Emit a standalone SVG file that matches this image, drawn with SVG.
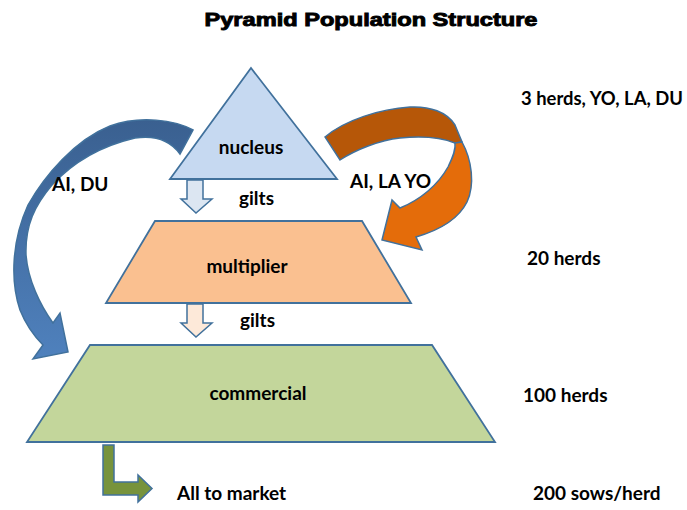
<svg xmlns="http://www.w3.org/2000/svg" width="687" height="510" viewBox="0 0 687 510">
  <defs>
    <linearGradient id="blueRibbon" x1="0" y1="0" x2="0" y2="1">
      <stop offset="0" stop-color="#3a6090"/>
      <stop offset="1" stop-color="#4f81bd"/>
    </linearGradient>
  </defs>
  <style>
    .lbl { font-family: "Lato", "Open Sans", "Liberation Sans", sans-serif; font-weight: 700; font-size: 19px; fill: #000; }
    .title { font-family: "Liberation Sans", Arial, sans-serif; font-weight: 900; font-size: 18px; fill: #000; stroke: #000; stroke-width: 0.9px; }
    .shape { stroke: #41719c; stroke-width: 1.8; stroke-linejoin: miter; }
    .conn { stroke: #41719c; stroke-width: 1.5; stroke-linejoin: miter; }
  </style>

  <rect width="687" height="510" fill="#fff"/>

  <text class="title" x="371" y="26" text-anchor="middle" textLength="333" lengthAdjust="spacingAndGlyphs">Pyramid Population Structure</text>

  <!-- tiers -->
  <g id="nucleus">
    <polygon class="shape" points="251,68 337,179 170,179" fill="#c6d9f1"/>
    <text class="lbl" x="251" y="154" text-anchor="middle">nucleus</text>
  </g>
  <g id="multiplier">
    <polygon class="shape" points="155,221 362,221 411,303 106,303" fill="#fac090"/>
    <text class="lbl" x="247" y="273" text-anchor="middle">multiplier</text>
  </g>
  <g id="commercial">
    <polygon class="shape" points="90,345 432,345 495,442 27,442" fill="#c3d69b"/>
    <text class="lbl" x="258" y="400" text-anchor="middle">commercial</text>
  </g>

  <!-- flows between tiers -->
  <g id="connectors">
    <!-- gilts: nucleus to multiplier -->
    <path class="conn" d="M187,180 L203,180 L203,199 L212,199 L196,213 L181,199 L187,199 Z" fill="#dce6f2"/>
    <!-- gilts: multiplier to commercial -->
    <path class="conn" d="M187,304 L203,304 L203,323 L212,323 L196,337 L181,323 L187,323 Z" fill="#fde9d9"/>
    <!-- AI, DU: nucleus to commercial -->
    <path class="conn" d="M193,130 C175,120 140,115 110,126 C75,140 45,175 28,205 C12,240 10,280 20,310 C26,325 34,336 43,345 L33,359 L68,352 L60,313 L53,323 C40,305 28,280 26,255 C25,225 35,205 52,185 C75,160 105,145 135,138 C155,135 170,140 180,154 Z" fill="url(#blueRibbon)"/>
    <!-- AI, LA YO: nucleus to multiplier (back of ribbon) -->
    <path class="conn" d="M325,137 C345,120 380,109 410,107 C430,106 447,112 455,125 L462,142 L455,143 C440,137 420,136 400,138 C380,140 355,150 340,160 Z" fill="#b65708"/>
    <!-- front of ribbon with head -->
    <path class="conn" d="M455,143 L462,142 C472,160 475,185 467,202 C458,220 440,230 416,237 L422,250 L382,240 L392,200 L400,208 C420,200 438,185 448,167 C453,157 456,150 455,143 Z" fill="#e46c0a"/>
    <!-- commercial output -->
    <path class="conn" d="M103,445 L114,445 L114,482 L138,482 L138,475 L152,488.5 L138,502 L138,495 L103,495 Z" fill="#77933c"/>
  </g>

  <!-- flow labels -->
  <text class="lbl" x="239" y="205">gilts</text>
  <text class="lbl" x="240" y="327">gilts</text>
  <text class="lbl" x="52" y="191">AI, DU</text>
  <text class="lbl" x="350" y="188">AI, LA YO</text>
  <text class="lbl" x="177" y="500">All to market</text>

  <!-- herd counts -->
  <text class="lbl" x="521" y="105" textLength="162" lengthAdjust="spacingAndGlyphs">3 herds, YO, LA, DU</text>
  <text class="lbl" x="527" y="265">20 herds</text>
  <text class="lbl" x="523" y="402">100 herds</text>
  <text class="lbl" x="533" y="500">200 sows/herd</text>
</svg>
